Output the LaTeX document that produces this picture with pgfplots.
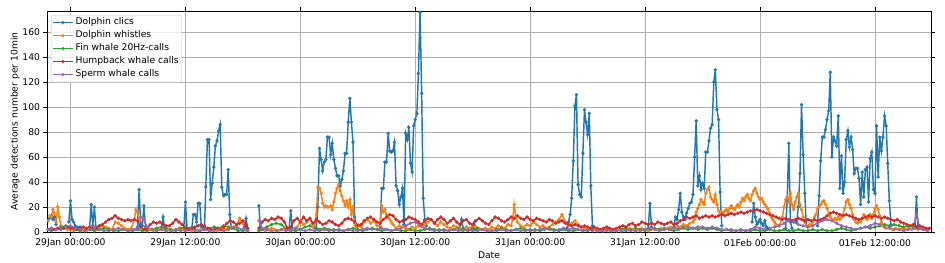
\documentclass[border=0pt]{standalone}
\usepackage{pgfplots}
\pgfplotsset{compat=1.18}
\usepackage{fontspec}
\setmainfont{DejaVu Sans}
\definecolor{c0}{HTML}{1F77B4}
\definecolor{c1}{HTML}{FF7F0E}
\definecolor{c2}{HTML}{2CA02C}
\definecolor{c3}{HTML}{D62728}
\definecolor{c4}{HTML}{9467BD}
\definecolor{gridc}{RGB}{176,176,176}
\definecolor{legc}{RGB}{204,204,204}
\pgfplotsset{ser/.style={color=#1, line width=1.45bp, mark=*, mark size=1.6bp, mark options={solid, fill=#1, draw=#1, line width=0.2bp}}}
\begin{document}
\begin{tikzpicture}
\begin{axis}[
  scale only axis, width=884bp, height=221bp,
  xmin=-2.45, xmax=89.85, ymin=0, ymax=177,
  unbounded coords=jump,
  xtick={0,12,24,36,48,60,72,84},
  xticklabels={29Jan 00:00:00,29Jan 12:00:00,30Jan 00:00:00,30Jan 12:00:00,31Jan 00:00:00,31Jan 12:00:00,01Feb 00:00:00,01Feb 12:00:00},
  ytick={0,20,40,60,80,100,120,140,160},
  grid=major, major grid style={gridc, line width=0.8bp},
  tick align=outside, major tick length=3.5bp,
  tick style={black, line width=0.7bp},
  axis line style={black, line width=0.8bp},
  /pgf/number format/assume math mode=true,
  tick label style={font=\fontsize{9.2bp}{11bp}\selectfont},
  label style={font=\fontsize{9.2bp}{11bp}\selectfont},
  xlabel={Date}, ylabel={Average detections number per 10min},
  xlabel style={at={(axis description cs:0.5,-0.104)}, anchor=center},
  ylabel style={at={(axis description cs:-0.0362,0.5)}, anchor=center},
  legend cell align=left,
  legend style={at={(0.0045,0.982)}, anchor=north west, draw=legc, rounded corners=2bp, fill=white, fill opacity=0.8, text opacity=1, font=\fontsize{9.2bp}{11bp}\selectfont, inner sep=1bp, row sep=0bp, nodes={inner sep=2bp, text height=6.8bp, text depth=2.2bp}},
  legend image code/.code={\draw[mark repeat=2,mark phase=2] plot coordinates {(0bp,0bp) (10bp,0bp) (20bp,0bp)};},
]
\addplot[ser=c0] table {
x y
-2.17 11
-2.0 13
-1.83 10
-1.67 12
-1.5 6
-1.4 nan
-0.17 8
0 25
0.17 10
0.33 8
0.5 5
0.67 4
0.83 3
1.0 4
1.1 nan
2.0 4
2.17 22
2.33 5
2.5 20
2.67 3
2.8 nan
7.0 4
7.17 34
7.33 6
7.5 5
7.67 21
7.83 4
7.9 nan
9.5 3
9.67 12
9.83 3
9.9 nan
11.83 3
12.0 24
12.17 3
12.3 nan
12.67 3
12.83 14
13.0 14
13.17 8
13.33 23
13.5 23
13.67 4
13.83 3
14.0 5
14.13 36
14.3 74
14.47 74
14.63 26
14.8 39
14.97 52
15.13 69
15.3 73
15.47 81
15.63 86
15.8 36
15.97 29
16.13 30
16.3 30
16.47 50
16.63 14
16.8 3
16.9 nan
18.17 4
18.33 11
18.5 3
18.6 nan
19.67 21
19.83 3
19.9 nan
22.83 3
23.0 17
23.17 3
23.3 nan
25.67 3
25.83 20
26.0 67
26.17 58
26.33 49
26.5 56
26.67 58
26.83 76
27.0 76
27.17 62
27.33 71
27.5 58
27.67 51
27.83 45
28.0 45
28.17 37
28.33 42
28.5 49
28.67 63
28.83 63
29.0 88
29.17 107
29.33 88
29.5 72
29.67 12
29.83 5
29.9 nan
32.33 4
32.5 35
32.67 35
32.83 56
33.0 56
33.17 79
33.33 65
33.5 64
33.67 65
33.83 72
34.0 37
34.17 33
34.33 22
34.5 28
34.67 35
34.83 6
35.0 79
35.17 74
35.33 84
35.5 55
35.67 48
35.83 85
36.0 90
36.17 95
36.33 127
36.5 176
36.67 111
36.83 27
37.0 10
37.17 5
37.3 nan
40.67 3
40.83 10
41.0 3
41.1 nan
42.0 3
42.17 8
42.33 2
42.4 nan
51.83 3
52.0 8
52.17 14
52.33 27
52.5 57
52.67 101
52.83 110
53.0 38
53.17 30
53.33 28
53.5 63
53.67 98
53.83 88
54.0 78
54.17 95
54.33 37
54.5 5
54.6 nan
60.33 3
60.5 23
60.67 4
60.8 nan
63.0 4
63.17 12
63.33 10
63.5 18
63.67 31
63.83 16
64.0 12
64.17 10
64.33 15
64.5 19
64.67 23
64.83 24
65.0 30
65.17 60
65.33 89
65.5 37
65.67 45
65.83 34
66.0 39
66.17 35
66.33 64
66.5 64
66.67 73
66.83 83
67.0 86
67.17 120
67.33 130
67.5 98
67.67 90
67.83 32
68.0 5
68.1 nan
71.17 8
71.33 23
71.5 12
71.67 6
71.83 8
72.0 10
72.17 7
72.33 5
72.5 9
72.67 4
72.83 3
72.9 nan
74.67 3
74.83 25
75.0 71
75.17 8
75.33 3
75.4 nan
75.83 8
76.0 20
76.17 47
76.33 102
76.5 62
76.67 31
76.83 5
76.9 nan
78.0 5
78.17 29
78.33 57
78.5 76
78.67 76
78.83 82
79.0 90
79.17 97
79.33 128
79.5 60
79.67 76
79.83 73
80.0 69
80.17 93
80.33 35
80.5 61
80.67 31
80.83 40
81.0 74
81.17 81
81.33 68
81.5 76
81.67 66
81.83 47
82.0 51
82.17 51
82.33 43
82.5 22
82.67 48
82.83 28
83.0 50
83.17 52
83.33 24
83.5 59
83.67 64
83.83 34
84.0 31
84.17 85
84.33 44
84.5 76
84.67 65
84.83 76
85.0 93
85.17 85
85.33 55
85.5 25
85.67 5
85.8 nan
88.17 3
88.33 28
88.5 3
};
\addlegendentry{Dolphin clics}
\addplot[ser=c1] table {
x y
-2.33 9
-2.17 13
-2.0 12
-1.83 18
-1.67 15
-1.5 8
-1.33 20
-1.17 12
-1.0 5
-0.67 3
-0.33 2
0 2
0.33 1
0.67 2
1.0 1
1.33 2
1.67 1
2.0 2
2.33 3
2.67 2
3.0 4
3.33 5
3.67 4
4.0 3
4.33 2
4.67 8
5.0 7
5.33 5
5.67 3
6.0 2
6.33 3
6.67 10
6.83 18
7.0 16
7.17 9
7.33 3
7.67 2
8.0 1
8.33 2
8.67 1
9.0 2
9.33 3
9.67 2
10.0 1
10.33 2
10.67 1
11.0 2
11.33 3
11.67 2
12.0 1
12.33 2
12.67 1
13.0 2
13.33 1
13.67 2
14.0 3
14.33 2
14.67 1
15.0 2
15.33 1
15.67 2
16.0 3
16.33 2
16.67 4
17.0 3
17.33 5
17.67 11
18.0 7
18.33 2
18.5 nan
19.67 1
20.0 2
20.33 1
20.67 2
21.0 3
21.33 2
21.67 1
22.0 2
22.33 3
22.67 2
23.0 1
23.33 2
23.67 4
24.0 9
24.33 6
24.67 8
25.0 11
25.33 4
25.5 5
25.67 14
25.83 36
26.0 35
26.17 31
26.33 23
26.5 20
26.67 21
26.83 20
27.0 20
27.17 21
27.33 18
27.5 24
27.67 31
27.83 35
28.0 38
28.17 33
28.33 29
28.5 25
28.67 21
28.83 25
29.0 20
29.17 26
29.33 14
29.5 20
29.67 7
29.83 4
30.0 6
30.33 4
30.67 8
31.0 10
31.33 7
31.67 9
32.0 5
32.33 5
32.5 21
32.67 16
32.83 18
33.0 14
33.17 12
33.33 10
33.5 8
33.67 6
34.0 3
34.33 5
34.67 4
35.0 3
35.33 2
35.67 4
36.0 3
36.33 5
36.67 4
37.0 6
37.33 8
37.67 10
38.0 7
38.33 5
38.67 8
39.0 6
39.33 4
39.67 3
40.0 5
40.33 4
40.67 3
41.0 2
41.33 4
41.67 3
42.0 5
42.33 4
42.67 3
43.0 2
43.33 3
43.67 2
44.0 4
44.33 3
44.67 5
45.0 4
45.33 3
45.67 6
46.0 5
46.17 10
46.33 22
46.5 12
46.67 8
47.0 5
47.33 4
47.67 6
48.0 5
48.33 8
48.67 6
49.0 4
49.33 5
49.67 3
50.0 4
50.33 6
50.67 8
51.0 10
51.33 14
51.67 8
52.0 5
52.33 7
52.67 9
53.0 6
53.33 4
53.67 3
54.0 2
54.33 3
54.67 2
55.0 1
55.33 2
55.67 1
56.0 2
56.33 1
56.67 2
57.0 1
57.33 2
57.67 1
58.0 2
58.33 3
58.67 2
59.0 1
59.33 2
59.67 3
60.0 2
60.33 1
60.67 2
61.0 3
61.33 2
61.67 3
62.0 2
62.33 3
62.67 4
63.0 3
63.33 5
63.67 4
64.0 6
64.33 5
64.67 7
65.0 8
65.17 10
65.33 16
65.5 19
65.67 22
65.83 26
66.0 24
66.17 22
66.33 31
66.5 34
66.67 36
66.83 28
67.0 26
67.17 24
67.33 30
67.5 22
67.67 17
67.83 14
68.0 16
68.17 15
68.33 17
68.5 18
68.67 16
68.83 19
69.0 21
69.17 19
69.33 18
69.5 20
69.67 22
69.83 20
70.0 24
70.17 27
70.33 25
70.5 28
70.67 30
70.83 27
71.0 25
71.17 30
71.33 33
71.5 35
71.67 31
71.83 28
72.0 26
72.17 27
72.33 24
72.5 22
72.67 20
72.83 18
73.0 15
73.17 12
73.33 10
73.5 8
73.67 6
74.0 5
74.33 12
74.5 20
74.67 26
74.83 28
75.0 24
75.17 31
75.33 22
75.5 18
75.67 24
75.83 28
76.0 31
76.17 22
76.33 18
76.5 12
76.67 8
76.83 5
77.0 4
77.17 6
77.33 5
77.5 8
77.67 12
77.83 14
78.0 19
78.17 20
78.33 22
78.5 24
78.67 25
78.83 22
79.0 19
79.17 14
79.33 12
79.5 10
79.67 9
79.83 11
80.0 10
80.17 12
80.33 10
80.5 12
80.67 14
80.83 19
81.0 24
81.17 26
81.33 22
81.5 19
81.67 14
81.83 10
82.0 8
82.17 7
82.33 9
82.5 8
82.67 11
82.83 14
83.0 12
83.17 10
83.33 12
83.5 14
83.67 11
83.83 14
84.0 19
84.17 21
84.33 18
84.5 13
84.67 8
84.83 5
85.17 3
85.5 4
85.83 2
86.17 3
86.5 2
86.83 3
87.17 2
87.5 3
87.83 2
88.17 3
88.5 2
88.83 3
89.17 2
89.5 2
};
\addlegendentry{Dolphin whistles}
\addplot[ser=c2] table {
x y
-2.33 2
-2.0 1
-1.5 2
-1.0 4
-0.5 5
0 3
0.5 2
1.0 1
1.5 1
2.0 2
2.5 1
3.0 2
3.5 3
4.0 2
4.5 1
5.0 1
5.5 2
6.0 1
6.5 1
7.0 2
7.5 1
8.0 1
8.5 2
9.0 3
9.5 4
10.0 3
10.5 2
11.0 1
11.5 3
12.0 4
12.5 3
13.0 2
13.5 1
14.0 2
14.5 3
15.0 4
15.5 3
16.0 5
16.5 4
17.0 3
17.5 1
18.0 1
18.5 1
18.6 nan
19.67 1
20.0 2
20.5 4
21.0 6
21.5 7
22.0 6
22.5 3
23.0 1
23.5 1
24.0 2
24.5 4
25.0 5
25.5 3
26.0 2
26.5 3
27.0 2
27.5 1
28.0 2
28.5 1
29.0 2
29.5 3
30.0 2
30.5 1
31.0 2
31.5 3
32.0 2
32.5 1
33.0 2
33.5 1
34.0 2
34.5 1
35.0 1
35.5 2
36.0 1
36.5 1
37.0 2
37.5 3
38.0 2
38.5 1
39.0 2
39.5 1
40.0 2
40.5 3
41.0 2
41.5 1
42.0 2
42.5 3
43.0 2
43.5 1
44.0 1
44.5 2
45.0 3
45.5 2
46.0 1
46.5 2
47.0 3
47.5 2
48.0 1
48.5 2
49.0 1
49.5 2
50.0 3
50.5 2
51.0 1
51.5 2
52.0 1
52.5 1
53.0 2
53.5 1
54.0 1
54.5 2
55.0 1
55.5 1
56.0 2
56.5 1
57.0 1
57.5 2
58.0 3
58.5 2
59.0 3
59.5 2
60.0 1
60.5 2
61.0 3
61.5 2
62.0 3
62.5 2
63.0 1
63.5 2
64.0 3
64.5 2
65.0 3
65.5 2
66.0 3
66.5 2
67.0 3
67.5 2
68.0 1
68.5 2
69.0 1
69.5 1
70.0 2
70.5 1
71.0 1
71.5 2
72.0 1
72.5 1
73.0 2
73.5 1
74.0 1
74.5 2
75.0 1
75.5 1
76.0 2
76.5 1
77.0 1
77.5 2
78.0 1
78.5 2
79.0 1
79.5 1
80.0 2
80.5 3
81.0 2
81.5 1
82.0 2
82.5 3
83.0 4
83.5 3
84.0 4
84.5 5
85.0 6
85.5 5
86.0 6
86.5 5
87.0 4
87.5 5
88.0 4
88.5 3
89.0 2
89.5 2
};
\addlegendentry{Fin whale 20Hz-calls}
\addplot[ser=c3] table {
x y
-2.33 2
-2.0 3
-1.67 2
-1.33 3
-1.0 2
-0.67 3
-0.33 4
0 3
0.33 3
0.67 2
1.0 3
1.33 4
1.67 3
2.0 4
2.33 3
2.67 3
3.0 5
3.33 6
3.67 8
4.0 10
4.33 11
4.67 13
5.0 11
5.33 10
5.67 9
6.0 10
6.33 9
6.67 10
7.0 9
7.33 4
7.67 2
8.0 3
8.33 6
8.67 8
9.0 7
9.33 8
9.67 6
10.0 5
10.33 5
10.67 7
11.0 10
11.33 8
11.67 6
12.0 3
12.33 2
12.67 3
13.0 4
13.33 5
13.67 6
14.0 4
14.33 3
14.67 2
15.0 2
15.33 3
15.67 2
16.0 4
16.33 7
16.67 9
17.0 8
17.33 6
17.67 7
18.0 9
18.33 6
18.5 3
18.6 nan
19.67 3
20.0 8
20.33 10
20.67 9
21.0 11
21.33 10
21.67 12
22.0 11
22.33 8
22.67 3
23.0 4
23.33 9
23.67 11
24.0 8
24.33 12
24.67 9
25.0 11
25.33 7
25.67 10
26.0 8
26.33 6
26.67 7
27.0 9
27.33 8
27.67 6
28.0 5
28.33 7
28.67 10
29.0 11
29.33 10
29.67 8
30.0 5
30.33 6
30.67 9
31.0 11
31.33 12
31.67 10
32.0 8
32.33 7
32.67 10
33.0 12
33.33 14
33.67 13
34.0 10
34.33 8
34.67 9
35.0 10
35.33 12
35.67 11
36.0 10
36.33 8
36.67 6
37.0 9
37.33 11
37.67 10
38.0 7
38.33 10
38.67 12
39.0 10
39.33 7
39.67 9
40.0 11
40.33 8
40.67 6
41.0 9
41.33 10
41.67 7
42.0 6
42.33 9
42.67 11
43.0 9
43.33 7
43.67 6
44.0 9
44.33 12
44.67 11
45.0 9
45.33 8
45.67 10
46.0 12
46.33 11
46.67 13
47.0 11
47.33 10
47.67 12
48.0 10
48.33 9
48.67 11
49.0 10
49.33 9
49.67 8
50.0 10
50.33 9
50.67 7
51.0 8
51.33 9
51.67 7
52.0 6
52.33 5
52.67 6
53.0 5
53.33 4
53.67 5
54.0 4
54.33 3
54.67 4
55.0 3
55.33 2
55.67 3
56.0 4
56.33 3
56.67 2
57.0 3
57.33 4
57.67 5
58.0 4
58.33 6
58.67 7
59.0 5
59.33 6
59.67 8
60.0 7
60.33 6
60.67 7
61.0 6
61.33 8
61.67 7
62.0 6
62.33 7
62.67 8
63.0 6
63.33 7
63.67 9
64.0 10
64.33 12
64.67 11
65.0 12
65.33 13
65.67 11
66.0 12
66.33 13
66.67 12
67.0 13
67.33 12
67.67 13
68.0 14
68.33 13
68.67 14
69.0 15
69.33 14
69.67 15
70.0 16
70.33 15
70.67 16
71.0 17
71.33 17
71.67 18
72.0 17
72.33 16
72.67 15
73.0 14
73.33 13
73.67 12
74.0 11
74.33 10
74.67 11
75.0 10
75.33 9
75.67 10
76.0 11
76.33 10
76.67 9
77.0 10
77.33 9
77.67 10
78.0 9
78.33 10
78.67 11
79.0 13
79.33 15
79.67 16
80.0 15
80.33 14
80.67 13
81.0 14
81.33 13
81.67 12
82.0 11
82.33 10
82.67 11
83.0 12
83.33 13
83.67 12
84.0 13
84.33 12
84.67 11
85.0 12
85.33 11
85.67 10
86.0 9
86.33 10
86.67 8
87.0 7
87.33 6
87.67 5
88.0 6
88.33 4
88.67 5
89.0 4
89.33 3
89.67 3
};
\addlegendentry{Humpback whale calls}
\addplot[ser=c4] table {
x y
-2.33 2
-2.0 3
-1.5 2
-1.0 2
-0.5 4
0 5
0.5 3
1.0 2
1.5 1
2.0 2
2.5 3
3.0 2
3.5 1
4.0 1
4.5 2
5.0 3
5.5 2
6.0 1
6.5 2
7.0 3
7.33 12
7.67 10
8.0 4
8.5 2
9.0 1
9.5 2
10.0 1
10.5 1
11.0 2
11.5 1
12.0 1
12.5 2
13.0 1
13.5 1
14.0 2
14.5 1
15.0 1
15.5 2
16.0 1
16.5 2
17.0 4
17.5 3
18.0 2
18.5 1
18.6 nan
19.67 9
20.0 3
20.5 2
21.0 1
21.5 1
22.0 2
22.5 1
23.0 2
23.5 3
24.0 2
24.5 1
25.0 2
25.5 1
26.0 1
26.5 2
27.0 1
27.5 2
28.0 1
28.5 1
29.0 2
29.5 1
30.0 1
30.5 2
31.0 3
31.5 2
32.0 2
32.5 3
33.0 2
33.5 1
34.0 2
34.5 3
35.0 5
35.5 7
36.0 8
36.5 5
37.0 3
37.5 2
38.0 1
38.5 2
39.0 1
39.5 1
40.0 2
40.5 1
41.0 1
41.5 2
42.0 1
42.5 1
43.0 2
43.5 1
44.0 1
44.5 1
45.0 2
45.5 1
46.0 1
46.5 2
47.0 1
47.5 1
48.0 2
48.5 1
49.0 2
49.5 3
50.0 2
50.5 1
51.0 2
51.5 3
52.0 2
52.5 3
53.0 2
53.5 1
54.0 2
54.5 1
55.0 1
55.5 1
56.0 1
56.5 1
57.0 1
57.5 1
58.0 1
58.5 1
59.0 1
59.5 1
60.0 2
60.5 3
61.0 2
61.5 1
62.0 2
62.5 2
63.0 3
63.5 3
64.0 4
64.5 4
65.0 3
65.5 4
66.0 4
66.5 3
67.0 4
67.5 3
68.0 2
68.5 2
69.0 2
69.5 1
70.0 1
70.5 1
71.0 2
71.5 4
72.0 3
72.5 2
73.0 3
73.5 4
74.0 5
74.5 7
75.0 9
75.5 8
76.0 6
76.5 5
77.0 4
77.5 5
78.0 7
78.5 9
79.0 10
79.5 9
80.0 7
80.5 5
81.0 4
81.5 3
82.0 2
82.5 3
83.0 4
83.5 5
84.0 7
84.5 6
85.0 4
85.5 3
86.0 2
86.5 2
87.0 1
87.5 2
88.0 3
88.33 14
88.67 3
89.0 2
89.5 1
};
\addlegendentry{Sperm whale calls}
\end{axis}
\path ([shift={(-47bp,-31bp)}]current axis.south west) rectangle ([shift={(14bp,11bp)}]current axis.north east);
\end{tikzpicture}
\end{document}
